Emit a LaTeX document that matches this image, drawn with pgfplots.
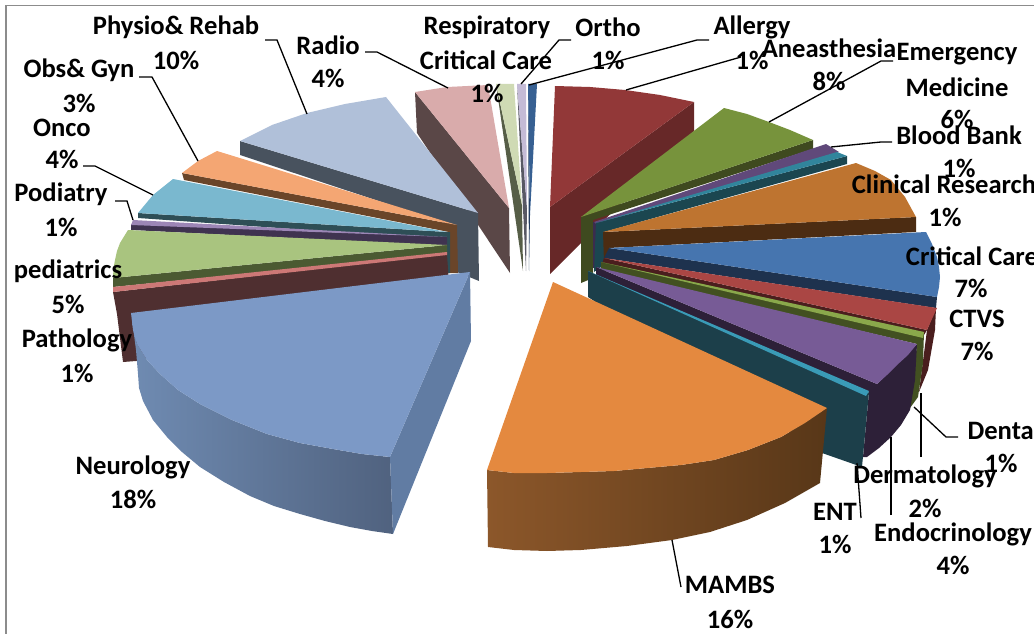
\documentclass[border=0pt]{standalone}
\usepackage{pgfplots}
\pgfplotsset{compat=1.18}
\usepackage{fontspec}
\setmainfont{Carlito}
\newcommand\poly[2]{\addplot[fill={#1},draw=none,forget plot] coordinates {#2} -- cycle;}
\newcommand\polyg[4]{\addplot[left color={#1},right color={#2},draw=none,forget plot] coordinates {#3} -- cycle;}
\newcommand\lead[1]{\addplot[black,line width=1.3pt,forget plot] coordinates {#1};}
\newcommand\lab[3]{\node[align=center,inner sep=0pt,anchor=center,font=\fontsize{26.6}{26.6}\selectfont\bfseries] at (axis cs:#1,#2) {#3};}
\begin{document}
\begin{tikzpicture}
\path[use as bounding box,clip] (0,0) rectangle (1034pt,634pt);
\begin{axis}[at={(0,0)},anchor=south west,scale only axis,width=1034pt,height=634pt,
  xmin=0,xmax=1034,ymin=0,ymax=634,y dir=reverse,hide axis,clip=false]
% frame
\addplot[color={rgb,255:red,140;green,140;blue,140},line width=1.6pt,forget plot] coordinates {(6,634)(6,5.5)(1034,5.5)};
% back slivers
\poly{rgb,255:red,86;green,94;blue,71}{(496,84)(522,205)(523,271)}
\poly{rgb,255:red,207;green,218;blue,180}{(496,84)(514,84)(522,205)}
\poly{rgb,255:red,88;green,88;blue,100}{(517,84)(527,208)(526,271)}
\poly{rgb,255:red,196;green,187;blue,214}{(517,84)(526,84)(527,208)}
\poly{rgb,255:red,35;green,60;blue,95}{(528,84)(530,215)(529,271)}
\poly{rgb,255:red,55;green,96;blue,146}{(528,84)(537,84)(530,215)}
% radio
\poly{rgb,255:red,90;green,71;blue,71}{(415,92)(509,208)(510,273)(417,133)}
\poly{rgb,255:red,217;green,171;blue,171}{(415,92)(447,87)(488,85)(509,208)}
% physio
\poly{rgb,255:red,72;green,82;blue,94}{(240,141)(478,213)(479,281)(457,272)(457,227)(240,155)}
\poly{rgb,255:red,176;green,192;blue,217}{(240,141)(272,125)(307,113)(345,104)(386,97)(478,213)}
% obs
\poly{rgb,255:red,106;green,69;blue,41}{(182,173)(457,225)(458,273)(449,273)(449,232)(184,180)}
\poly{rgb,255:red,244;green,166;blue,115}{(182,173)(198,161)(217,151)(457,225)}
% onco
\poly{rgb,255:red,46;green,78;blue,86}{(138,213)(447,232)(450,232)(450,273)(447,273)(447,240)(138,218)}
\poly{rgb,255:red,122;green,184;blue,207}{(138,213)(153,195)(173,179)(447,232)}
% podiatry
\poly{rgb,255:red,63;green,51;blue,80}{(131,224)(447,237)(447,246)(131,230)}
\poly{rgb,255:red,156;green,134;blue,182}{(133,220)(447,237)(131,225)}
% pediatrics
\poly{rgb,255:red,75;green,90;blue,50}{(113,278)(447,245)(447,254)(113,287)}
\poly{rgb,255:red,169;green,196;blue,127}{(128,230)(447,245)(113,278)(113.5,268)(115,260)(117,251)(120,243)}
% pathology
\poly{rgb,255:red,79;green,47;blue,48}{(113,292)(447,254)(450,300)(136,361)(123,362)(117,314)}
\poly{rgb,255:red,205;green,120;blue,118}{(113,287)(447,252)(447,255)(113,292)}
% neurology
\polyg{rgb,255:red,111;green,139;blue,178}{rgb,255:red,80;green,98;blue,127}{(132,320)(137,344)(147,360)(160,374)(178,390)(200,404)(232,420)(267,434)(300,443)(333,449)(362,454)(390,457)(393,534)(372,531)(350,527)(325,521)(300,514)(274,506)(250,496)(224,482)(200,467)(182,452)(167,437)(153,420)(143,401)(139,388)(138,374)(136,350)}{}
\poly{rgb,255:red,97;green,124;blue,163}{(470,272)(471,341)(393,534)(390,457)}
\poly{rgb,255:red,124;green,153;blue,198}{(470,272)(390,457)(362,454)(333,449)(300,443)(267,434)(232,420)(200,404)(178,390)(160,374)(147,360)(137,344)(133,330)(131,313)}
% anaesthesia
\poly{rgb,255:red,103;green,40;blue,40}{(694,102)(550,207)(550,274)(694,131)}
\poly{rgb,255:red,146;green,56;blue,56}{(555,86)(590,87)(625,90)(660,95)(694,102)(550,207)}
% emergency
\poly{rgb,255:red,63;green,74;blue,31}{(581,217)(813,140)(813,149)(593,220)(593,278)(581,283)}
\poly{rgb,255:red,119;green,147;blue,60}{(581,217)(724,108)(747,114)(769,122)(790,130)(813,140)}
% blood bank
\poly{rgb,255:red,59;green,44;blue,78}{(593,222)(596,222)(596,268)(593,268)}
\poly{rgb,255:red,96;green,73;blue,122}{(594,222)(826,144)(839,152)(596,224)}
% teal
\poly{rgb,255:red,27;green,70;blue,80}{(596,223)(847,156)(847,164)(604,232)(604,265)(594,272)}
\poly{rgb,255:red,49;green,133;blue,156}{(596,223)(837,152)(847,156)}
% clinical
\poly{rgb,255:red,76;green,44;blue,18}{(603,232)(916,217)(916,232)(609,248)(609,262)(604,262)}
\poly{rgb,255:red,190;green,116;blue,48}{(603,232)(856,163)(875,171)(891,180)(905,197)(916,217)}
% critical
\poly{rgb,255:red,30;green,50;blue,78}{(609,248)(937,297)(936,308)(604,258)}
\poly{rgb,255:red,70;green,117;blue,175}{(609,248)(926,232)(932,244)(937,257)(939,267)(940,277)(939,287)(937,297)}
% ctvs
\poly{rgb,255:red,74;green,30;blue,30}{(936,308)(927,330)(919,392)(928,370)(935,330)}
\poly{rgb,255:red,74;green,30;blue,30}{(604,258)(927,330)(924,335)(602,264)}
\poly{rgb,255:red,170;green,70;blue,68}{(604,258)(937,308)(927,330)}
% dental
\poly{rgb,255:red,66;green,80;blue,33}{(601,262)(924,332)(923,363)(918,397)(910,408)(917,344)(601,270)}
\poly{rgb,255:red,138;green,168;blue,75}{(601,262)(924,332)(923,338)}
% endocrinology
\poly{rgb,255:red,45;green,32;blue,56}{(596,267)(877,384)(917,344)(915,380)(910,410)(901,425)(891,437)(879,448)(867,457)(863,457)(869,392)(596,276)}
\poly{rgb,255:red,119;green,91;blue,150}{(596,267)(917,344)(908,355)(897,365)(887,375)(877,384)}
% ENT
\poly{rgb,255:red,28;green,63;blue,74}{(588,271)(866,394)(869,392)(862,467)(822,453)(588,297)}
\poly{rgb,255:red,58;green,155;blue,183}{(588,271)(869,391)(866,396)}
% MAMBS
\polyg{rgb,255:red,140;green,87;blue,42}{rgb,255:red,88;green,55;blue,24}{(487,470)(514,473)(547,473)(581,472)(614,471)(647,468)(681,465)(714,460)(748,450)(781,437)(805,423)(827,408)(820,483)(785,503)(747,520)(710,532)(672,540)(627,546)(581,550)(547,551)(514,550)(488,547)}{}
\poly{rgb,255:red,228;green,137;blue,63}{(553,282)(827,408)(805,423)(781,437)(748,450)(714,460)(681,465)(647,468)(614,471)(581,472)(547,473)(514,473)(487,470)}
% leaders
\lead{(265,40)(277,40)(307,114)}
\lead{(365,52)(377,52)(448,88)}
\lead{(139,77)(152,77)(198,161)}
\lead{(83,166)(95,166)(153,195)}
\lead{(115,201)(127,201)(133,220)}
\lead{(571,40)(559,40)(521,84)}
\lead{(709,40)(697,40)(529,85)}
\lead{(741,57)(626,90)}
\lead{(893,61)(881,61)(769,122)}
\lead{(892,142)(881,142)(831,147)}
\lead{(958,437)(946,437)(914,407)}
\lead{(921,457)(921,393)}
\lead{(891,515)(891,437)}
\lead{(861,518)(857,463)}
\lead{(681,587)(672,540)}
% labels
\lab{176}{27}{Physio\& Rehab}\lab{176}{60}{10\%}
\lab{328}{45}{Radio}\lab{328}{78}{4\%}
\lab{487}{27}{Respiratory}\lab{486}{60}{Critical Care}\lab{487}{93}{1\%}
\lab{608}{27}{Ortho}\lab{608}{60}{1\%}
\lab{752}{27}{Allergy}\lab{752}{60}{1\%}
\lab{829}{48}{Aneasthesia}\lab{829}{81}{8\%}
\lab{957}{54}{Emergency}\lab{957}{87}{Medicine}\lab{957}{119}{6\%}
\lab{959}{135}{Blood Bank}\lab{959}{168}{1\%}
\lab{944}{184}{Clinical Research}\lab{945}{217}{1\%}
\lab{972}{256}{Critical Care}\lab{971}{288}{7\%}
\lab{977}{319}{CTVS}\lab{977}{351}{7\%}
\lab{1004}{430}{Dental}\lab{1001}{463}{1\%}
\lab{925}{476}{Dermatology}\lab{925}{508}{2\%}
\lab{953}{534}{Endocrinology}\lab{953}{565}{4\%}
\lab{835}{512}{ENT}\lab{835}{544}{1\%}
\lab{730}{585}{MAMBS}\lab{730}{619}{16\%}
\lab{133}{467}{Neurology}\lab{133}{499}{18\%}
\lab{77}{340}{Pathology}\lab{77}{373}{1\%}
\lab{68}{271}{pediatrics}\lab{68}{304}{5\%}
\lab{61}{194}{Podiatry}\lab{61}{227}{1\%}
\lab{62}{128}{Onco}\lab{62}{159}{4\%}
\lab{79}{70}{Obs\& Gyn}\lab{79}{103}{3\%}
\end{axis}
\end{tikzpicture}
\end{document}
